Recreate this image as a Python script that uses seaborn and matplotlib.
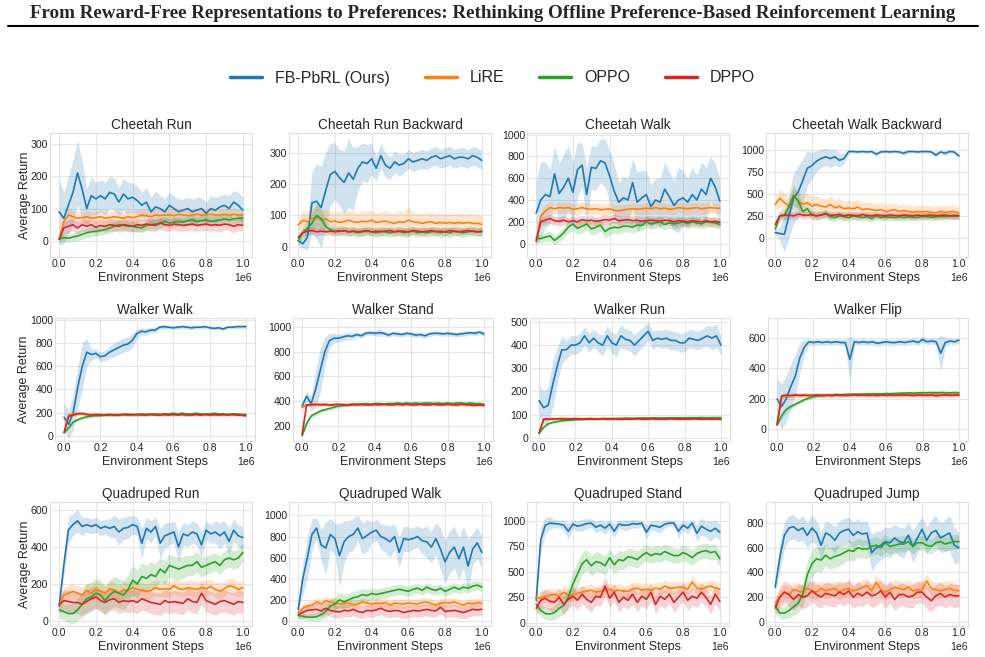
import numpy as np
import pandas as pd
import matplotlib
matplotlib.use("Agg")
import matplotlib.pyplot as plt
from matplotlib.lines import Line2D
import seaborn as sns

methods = ["FB-PbRL (Ours)", "LiRE", "OPPO", "DPPO"]
colors = ["#1f77b4", "#ff7f0e", "#2ca02c", "#d62728"]
steps = np.linspace(0, 1e6, 41)

tasks = ["Cheetah Run", "Cheetah Run Backward", "Cheetah Walk", "Cheetah Walk Backward",
         "Walker Walk", "Walker Stand", "Walker Run", "Walker Flip",
         "Quadruped Run", "Quadruped Walk", "Quadruped Stand", "Quadruped Jump"]
ylims = [(-50, 334), (-32, 362), (-123, 1015), (-217, 1190),
         (-43, 1014), (77, 1074), (-14, 517), (-76, 731),
         (-27, 642), (-48, 1127), (-33, 1188), (-35, 971)]
yticks = [[0, 100, 200, 300], [0, 100, 200, 300], [0, 200, 400, 600, 800, 1000], [0, 250, 500, 750, 1000],
          [0, 200, 400, 600, 800, 1000], [200, 400, 600, 800, 1000], [0, 100, 200, 300, 400, 500], [0, 200, 400, 600],
          [0, 200, 400, 600], [0, 200, 400, 600, 800, 1000], [0, 250, 500, 750, 1000], [0, 200, 400, 600, 800]]

# ---- Cheetah Run ----
cheetah_run = {
    "FB-PbRL (Ours)": [90, 70, 110, 150, 210, 160, 100, 140, 130, 140,
                       130, 150, 145, 120, 145, 130, 135, 125, 110, 120,
                       90, 105, 100, 90, 110, 100, 90, 95, 100, 90,
                       95, 100, 85, 100, 95, 105, 110, 100, 120, 110, 95],
    "LiRE": [5, 60, 80, 75, 70, 72, 75, 70, 72, 75,
             70, 72, 75, 72, 70, 75, 72, 75, 80, 78,
             75, 80, 78, 80, 80, 78, 82, 80, 78, 80,
             82, 80, 80, 82, 80, 80, 82, 80, 82, 80, 80],
    "OPPO": [5, 10, 8, 12, 15, 20, 25, 28, 30, 32,
             35, 40, 45, 50, 48, 45, 45, 42, 40, 48,
             50, 52, 55, 60, 55, 58, 60, 58, 62, 65,
             60, 62, 65, 60, 62, 65, 68, 65, 68, 70, 70],
    "DPPO": [5, 40, 45, 50, 40, 50, 45, 50, 42, 48,
             45, 50, 48, 45, 50, 48, 45, 50, 48, 52,
             50, 48, 55, 50, 48, 52, 50, 48, 50, 52,
             48, 50, 52, 48, 50, 48, 52, 50, 45, 50, 48],
}
cheetah_run_sd = {
    "FB-PbRL (Ours)": [100, 80, 90, 100, 100, 90, 60, 60, 50, 50,
                       50, 50, 50, 45, 50, 50, 45, 45, 40, 45,
                       45, 50, 40, 40, 40, 40, 40, 35, 35, 40,
                       40, 35, 35, 40, 40, 35, 35, 40, 35, 40, 40],
    "LiRE": [10, 20, 22, 20, 18, 18, 20, 18, 18, 20,
             18, 18, 20, 18, 18, 20, 18, 20, 18, 18,
             20, 18, 18, 20, 18, 18, 20, 18, 18, 20,
             18, 18, 20, 18, 18, 20, 18, 18, 20, 18, 18],
    "OPPO": [10, 12, 12, 14, 15, 15, 15, 16, 15, 15,
             16, 15, 15, 16, 15, 15, 16, 15, 15, 16,
             15, 15, 16, 15, 15, 16, 15, 15, 16, 15,
             15, 16, 15, 15, 16, 15, 15, 16, 15, 15, 16],
    "DPPO": [10, 18, 20, 18, 18, 20, 18, 18, 20, 18,
             18, 20, 18, 18, 20, 18, 18, 20, 18, 18,
             20, 18, 18, 20, 18, 18, 20, 18, 18, 20,
             18, 18, 20, 18, 18, 20, 18, 18, 20, 18, 18],
}

# ---- Cheetah Run Backward ----
cheetah_run_backward = {
    "FB-PbRL (Ours)": [20, 10, 30, 140, 145, 125, 180, 230, 240, 220,
                       205, 235, 215, 250, 270, 265, 280, 250, 290, 260,
                       250, 270, 260, 265, 280, 270, 275, 280, 275, 285,
                       290, 280, 285, 290, 280, 285, 285, 280, 290, 285, 275],
    "LiRE": [70, 85, 80, 90, 95, 85, 90, 80, 82, 78,
             80, 85, 80, 78, 82, 80, 85, 78, 80, 82,
             78, 75, 80, 78, 85, 80, 78, 75, 78, 80,
             75, 78, 75, 78, 75, 78, 75, 78, 75, 75, 72],
    "OPPO": [20, 45, 60, 75, 100, 90, 65, 55, 50, 52,
             50, 48, 50, 45, 48, 50, 48, 45, 50, 48,
             45, 48, 50, 45, 48, 50, 45, 48, 45, 48,
             50, 45, 48, 45, 50, 48, 45, 48, 50, 48, 48],
    "DPPO": [30, 45, 50, 52, 48, 50, 48, 50, 48, 50,
             52, 48, 50, 48, 50, 52, 48, 50, 48, 50,
             52, 48, 50, 50, 48, 52, 50, 48, 50, 52,
             48, 50, 48, 52, 50, 48, 50, 52, 50, 48, 50],
}
cheetah_run_backward_sd = {
    "FB-PbRL (Ours)": [15, 15, 40, 100, 120, 130, 120, 100, 90, 90,
                       100, 110, 100, 70, 60, 60, 50, 40, 40, 40,
                       35, 35, 35, 30, 30, 30, 30, 30, 30, 30,
                       30, 30, 30, 30, 30, 30, 30, 30, 30, 30, 30],
    "LiRE": [20, 30, 30, 35, 40, 35, 30, 30, 30, 35,
             30, 30, 35, 30, 30, 35, 30, 30, 30, 35,
             30, 30, 35, 30, 45, 30, 30, 30, 30, 30,
             28, 28, 30, 28, 28, 30, 28, 28, 30, 28, 28],
    "OPPO": [15, 20, 25, 30, 35, 30, 20, 15, 15, 15,
             15, 15, 15, 15, 15, 15, 15, 15, 15, 15,
             15, 15, 15, 15, 15, 15, 15, 15, 15, 15,
             15, 15, 15, 15, 15, 15, 15, 15, 15, 15, 15],
    "DPPO": [15, 12, 12, 12, 12, 12, 12, 12, 12, 12,
             12, 12, 12, 12, 12, 12, 12, 12, 12, 12,
             12, 12, 12, 12, 12, 12, 12, 12, 12, 12,
             12, 12, 12, 12, 12, 12, 12, 12, 12, 12, 12],
}

# ---- Cheetah Walk ----
cheetah_walk = {
    "FB-PbRL (Ours)": [280, 400, 450, 430, 640, 460, 520, 600, 470, 680,
                       720, 450, 700, 690, 760, 740, 620, 480, 380, 420,
                       400, 560, 380, 420, 450, 340, 400, 380, 500, 430,
                       350, 400, 420, 380, 450, 400, 500, 450, 600, 520, 390],
    "LiRE": [30, 250, 300, 330, 320, 330, 325, 330, 315, 320,
             330, 320, 315, 320, 310, 315, 320, 305, 300, 310,
             315, 320, 315, 320, 325, 320, 330, 320, 325, 315,
             320, 330, 325, 320, 325, 330, 320, 325, 330, 325, 325],
    "OPPO": [50, 45, 60, 70, 30, 60, 100, 150, 180, 140,
             160, 180, 135, 150, 170, 110, 140, 150, 145, 160,
             160, 150, 170, 165, 200, 180, 190, 200, 175, 190,
             180, 190, 200, 185, 200, 190, 180, 200, 195, 190, 175],
    "DPPO": [20, 200, 215, 230, 210, 205, 215, 200, 210, 200,
             220, 210, 215, 205, 210, 220, 215, 230, 210, 215,
             220, 210, 215, 205, 210, 215, 210, 205, 215, 210,
             200, 210, 205, 200, 210, 205, 200, 210, 200, 205, 195],
}
cheetah_walk_sd = {
    "FB-PbRL (Ours)": [300, 350, 300, 250, 250, 280, 300, 300, 280, 250,
                       200, 250, 200, 200, 200, 220, 230, 250, 180, 200,
                       200, 220, 280, 250, 220, 200, 200, 220, 250, 230,
                       230, 300, 250, 220, 250, 230, 250, 250, 200, 220, 200],
    "LiRE": [20, 50, 60, 55, 50, 50, 55, 50, 50, 55,
             50, 50, 55, 50, 50, 55, 50, 50, 55, 50,
             50, 55, 50, 50, 55, 50, 50, 55, 50, 50,
             55, 50, 50, 55, 50, 50, 55, 50, 50, 55, 50],
    "OPPO": [30, 40, 40, 45, 40, 45, 50, 55, 60, 55,
             60, 55, 55, 60, 55, 60, 55, 55, 60, 55,
             50, 55, 50, 50, 55, 50, 50, 55, 50, 50,
             45, 50, 45, 45, 50, 45, 45, 50, 45, 45, 45],
    "DPPO": [20, 40, 40, 45, 40, 40, 45, 40, 40, 45,
             40, 40, 45, 40, 40, 45, 40, 40, 45, 40,
             40, 45, 40, 40, 45, 40, 40, 45, 40, 40,
             45, 40, 40, 45, 40, 40, 45, 40, 40, 45, 40],
}

# ---- Cheetah Walk Backward ----
cheetah_walk_backward = {
    "FB-PbRL (Ours)": [60, 50, 40, 250, 450, 520, 650, 790, 820, 870,
                       900, 920, 900, 920, 880, 900, 980, 980, 975, 980,
                       975, 980, 950, 975, 980, 975, 980, 975, 960, 980,
                       980, 975, 980, 980, 975, 940, 975, 960, 980, 975, 930],
    "LiRE": [380, 450, 400, 360, 480, 420, 380, 400, 360, 380,
             360, 350, 380, 340, 360, 330, 340, 330, 350, 320,
             330, 320, 310, 320, 300, 310, 320, 300, 310, 300,
             290, 300, 295, 300, 290, 285, 300, 290, 295, 300, 280],
    "OPPO": [100, 250, 260, 350, 480, 420, 300, 330, 260, 250,
             260, 280, 240, 230, 250, 240, 230, 250, 240, 230,
             240, 220, 250, 230, 240, 235, 230, 240, 230, 240,
             235, 230, 245, 240, 235, 240, 245, 240, 250, 245, 250],
    "DPPO": [150, 250, 255, 260, 250, 270, 260, 255, 265, 250,
             260, 270, 255, 260, 265, 250, 260, 255, 250, 265,
             255, 250, 260, 255, 250, 260, 255, 250, 260, 255,
             250, 260, 250, 255, 260, 250, 255, 260, 250, 255, 250],
}
cheetah_walk_backward_sd = {
    "FB-PbRL (Ours)": [20, 80, 200, 250, 280, 300, 250, 200, 150, 120,
                       100, 100, 100, 90, 80, 60, 20, 15, 15, 15,
                       15, 15, 30, 15, 15, 15, 15, 15, 30, 15,
                       15, 15, 15, 15, 15, 30, 15, 30, 15, 15, 30],
    "LiRE": [60, 100, 120, 110, 120, 110, 100, 110, 100, 100,
             90, 90, 100, 90, 90, 85, 90, 85, 90, 80,
             80, 80, 75, 80, 75, 75, 80, 70, 75, 70,
             70, 70, 70, 70, 70, 65, 70, 65, 70, 65, 60],
    "OPPO": [40, 60, 70, 90, 100, 90, 70, 60, 50, 50,
             50, 50, 45, 45, 45, 45, 45, 45, 45, 45,
             40, 40, 40, 40, 40, 40, 40, 40, 40, 40,
             40, 40, 40, 40, 40, 40, 40, 40, 40, 40, 40],
    "DPPO": [60, 40, 40, 45, 40, 40, 45, 40, 40, 45,
             40, 40, 45, 40, 40, 45, 40, 40, 45, 40,
             40, 45, 40, 40, 45, 40, 40, 45, 40, 40,
             45, 40, 40, 45, 40, 40, 45, 40, 40, 45, 40],
}

# ---- Walker Walk ----
walker_walk = {
    "FB-PbRL (Ours)": [160, 100, 200, 420, 600, 720, 700, 710, 680, 690,
                       720, 740, 760, 780, 790, 820, 880, 900, 895, 910,
                       910, 935, 940, 935, 930, 935, 940, 935, 930, 935,
                       935, 940, 930, 925, 930, 920, 935, 935, 940, 940, 940],
    "LiRE": [30, 180, 190, 195, 190, 185, 185, 190, 180, 185,
             185, 180, 185, 185, 190, 185, 180, 185, 185, 190,
             185, 185, 180, 185, 185, 190, 185, 180, 185, 185,
             180, 185, 185, 180, 185, 180, 185, 185, 180, 180, 175],
    "OPPO": [30, 70, 120, 140, 155, 165, 170, 175, 175, 180,
             180, 185, 180, 185, 185, 180, 185, 190, 185, 185,
             190, 185, 190, 190, 195, 190, 195, 190, 190, 195,
             190, 190, 190, 195, 190, 190, 185, 190, 190, 185, 185],
    "DPPO": [30, 170, 180, 190, 195, 185, 180, 180, 185, 180,
             185, 180, 180, 185, 180, 185, 185, 180, 180, 185,
             180, 180, 185, 180, 185, 180, 185, 180, 180, 185,
             180, 185, 180, 185, 180, 185, 180, 185, 180, 180, 175],
}
walker_walk_sd = {
    "FB-PbRL (Ours)": [120, 120, 150, 180, 200, 120, 50, 40, 40, 45,
                       50, 60, 60, 60, 60, 60, 40, 30, 30, 25,
                       20, 20, 20, 15, 15, 15, 15, 15, 15, 15,
                       15, 15, 15, 15, 15, 15, 15, 15, 15, 15, 15],
    "LiRE": [10, 12, 12, 10, 10, 10, 10, 10, 10, 10,
             10, 10, 10, 10, 10, 10, 10, 10, 10, 10,
             10, 10, 10, 10, 10, 10, 10, 10, 10, 10,
             10, 10, 10, 10, 10, 10, 10, 10, 10, 10, 10],
    "OPPO": [10, 15, 15, 15, 15, 12, 12, 12, 12, 12,
             12, 12, 12, 12, 12, 12, 12, 12, 12, 12,
             12, 12, 12, 12, 12, 12, 12, 12, 12, 12,
             12, 12, 12, 12, 12, 12, 12, 12, 12, 12, 12],
    "DPPO": [10, 12, 12, 12, 12, 12, 12, 12, 12, 12,
             12, 12, 12, 12, 12, 12, 12, 12, 12, 12,
             12, 12, 12, 12, 12, 12, 12, 12, 12, 12,
             12, 12, 12, 12, 12, 12, 12, 12, 12, 12, 12],
}

# ---- Walker Stand ----
walker_stand = {
    "FB-PbRL (Ours)": [360, 440, 380, 500, 650, 800, 890, 910, 910, 920,
                       930, 925, 940, 930, 950, 955, 950, 955, 950, 935,
                       950, 945, 940, 950, 945, 935, 940, 930, 945, 950,
                       950, 945, 950, 945, 940, 945, 950, 955, 950, 960, 945],
    "LiRE": [350, 370, 375, 370, 375, 370, 370, 375, 370, 375,
             370, 375, 375, 370, 375, 375, 370, 380, 375, 380,
             375, 380, 375, 375, 380, 375, 380, 375, 375, 380,
             375, 375, 380, 375, 370, 375, 375, 370, 375, 370, 370],
    "OPPO": [120, 220, 280, 300, 320, 330, 340, 350, 360, 365,
             370, 370, 375, 375, 380, 375, 380, 380, 375, 380,
             380, 385, 380, 385, 380, 385, 380, 385, 385, 380,
             385, 380, 385, 380, 385, 385, 380, 385, 380, 380, 375],
    "DPPO": [130, 370, 370, 375, 370, 375, 370, 370, 375, 370,
             370, 375, 370, 375, 370, 370, 375, 370, 375, 370,
             370, 375, 370, 375, 370, 370, 375, 370, 370, 375,
             370, 370, 375, 370, 370, 375, 370, 370, 365, 370, 365],
}
walker_stand_sd = {
    "FB-PbRL (Ours)": [20, 40, 60, 150, 180, 120, 60, 40, 30, 30,
                       30, 30, 20, 20, 20, 20, 20, 30, 20, 20,
                       20, 20, 20, 20, 20, 20, 20, 20, 20, 20,
                       20, 20, 20, 20, 20, 20, 20, 20, 20, 20, 20],
    "LiRE": [15, 12, 12, 12, 12, 12, 12, 12, 12, 12,
             12, 12, 12, 12, 12, 12, 12, 12, 12, 12,
             12, 12, 12, 12, 12, 12, 12, 12, 12, 12,
             12, 12, 12, 12, 12, 12, 12, 12, 12, 12, 12],
    "OPPO": [15, 20, 20, 18, 16, 15, 15, 15, 14, 14,
             14, 14, 14, 14, 14, 14, 14, 14, 14, 14,
             14, 14, 14, 14, 14, 14, 14, 14, 14, 14,
             14, 14, 14, 14, 14, 14, 14, 14, 14, 14, 14],
    "DPPO": [15, 12, 12, 12, 12, 12, 12, 12, 12, 12,
             12, 12, 12, 12, 12, 12, 12, 12, 12, 12,
             12, 12, 12, 12, 12, 12, 12, 12, 12, 12,
             12, 12, 12, 12, 12, 12, 12, 12, 12, 12, 12],
}

# ---- Walker Run ----
walker_run = {
    "FB-PbRL (Ours)": [160, 130, 140, 230, 310, 380, 380, 400, 400, 410,
                       440, 410, 430, 410, 400, 440, 410, 400, 440, 425,
                       420, 400, 420, 440, 460, 420, 430, 425, 430, 420,
                       420, 410, 410, 430, 425, 420, 430, 440, 430, 440, 400],
    "LiRE": [20, 80, 82, 83, 82, 84, 83, 82, 84, 83,
             82, 84, 83, 82, 84, 83, 84, 82, 83, 84,
             83, 82, 84, 83, 82, 84, 83, 82, 83, 84,
             82, 83, 82, 84, 83, 82, 83, 82, 83, 82, 80],
    "OPPO": [20, 45, 60, 66, 70, 73, 75, 77, 78, 79,
             80, 80, 81, 81, 82, 82, 82, 83, 83, 84,
             84, 84, 85, 85, 85, 85, 86, 85, 86, 86,
             86, 86, 86, 87, 86, 87, 87, 86, 87, 87, 87],
    "DPPO": [20, 80, 81, 80, 82, 81, 80, 82, 81, 80,
             81, 82, 80, 81, 82, 80, 81, 82, 80, 81,
             80, 82, 81, 80, 81, 82, 80, 81, 80, 82,
             81, 80, 81, 80, 82, 81, 80, 81, 80, 81, 80],
}
walker_run_sd = {
    "FB-PbRL (Ours)": [70, 70, 80, 100, 80, 60, 40, 40, 40, 40,
                       40, 40, 40, 40, 45, 45, 45, 50, 50, 45,
                       45, 45, 45, 40, 40, 40, 35, 40, 40, 40,
                       40, 40, 40, 40, 40, 40, 40, 45, 50, 50, 40],
    "LiRE": [5, 5, 5, 5, 5, 5, 5, 5, 5, 5,
             5, 5, 5, 5, 5, 5, 5, 5, 5, 5,
             5, 5, 5, 5, 5, 5, 5, 5, 5, 5,
             5, 5, 5, 5, 5, 5, 5, 5, 5, 5, 5],
    "OPPO": [5, 6, 6, 5, 5, 5, 5, 5, 5, 5,
             5, 5, 5, 5, 5, 5, 5, 5, 5, 5,
             5, 5, 5, 5, 5, 5, 5, 5, 5, 5,
             5, 5, 5, 5, 5, 5, 5, 5, 5, 5, 5],
    "DPPO": [5, 6, 6, 6, 6, 6, 6, 6, 6, 6,
             6, 6, 6, 6, 6, 6, 6, 6, 6, 6,
             6, 6, 6, 6, 6, 6, 6, 6, 6, 6,
             6, 6, 6, 6, 6, 6, 6, 6, 6, 6, 6],
}

# ---- Walker Flip ----
walker_flip = {
    "FB-PbRL (Ours)": [200, 150, 200, 280, 350, 470, 540, 575, 570, 575,
                       570, 575, 570, 575, 570, 570, 460, 575, 570, 575,
                       570, 575, 565, 570, 575, 570, 570, 575, 570, 575,
                       580, 570, 590, 575, 580, 575, 500, 570, 580, 575, 585],
    "LiRE": [40, 215, 220, 222, 225, 222, 224, 225, 222, 225,
             224, 226, 225, 227, 226, 228, 227, 228, 226, 228,
             227, 229, 228, 230, 228, 229, 230, 228, 230, 229,
             230, 228, 230, 229, 231, 230, 229, 230, 231, 230, 230],
    "OPPO": [30, 90, 130, 150, 165, 180, 195, 205, 215, 220,
             222, 225, 226, 228, 227, 229, 230, 230, 232, 231,
             233, 232, 234, 233, 235, 234, 236, 237, 238, 240,
             238, 240, 241, 240, 242, 240, 242, 241, 240, 242, 240],
    "DPPO": [30, 220, 225, 222, 226, 223, 225, 222, 224, 226,
             223, 225, 222, 226, 224, 223, 225, 227, 224, 226,
             223, 225, 222, 226, 224, 225, 223, 226, 224, 225,
             222, 226, 224, 223, 225, 220, 224, 226, 223, 225, 225],
}
walker_flip_sd = {
    "FB-PbRL (Ours)": [130, 150, 150, 150, 140, 100, 50, 20, 20, 20,
                       20, 20, 20, 20, 20, 20, 150, 20, 20, 20,
                       20, 20, 20, 20, 20, 20, 20, 20, 20, 20,
                       20, 20, 20, 20, 20, 20, 120, 30, 20, 20, 20],
    "LiRE": [10, 10, 10, 10, 10, 10, 10, 10, 10, 10,
             10, 10, 10, 10, 10, 10, 10, 10, 10, 10,
             10, 10, 10, 10, 10, 10, 10, 10, 10, 10,
             10, 10, 10, 10, 10, 10, 10, 10, 10, 10, 10],
    "OPPO": [15, 20, 20, 15, 15, 12, 12, 12, 12, 12,
             12, 12, 12, 12, 12, 12, 12, 12, 12, 12,
             12, 12, 12, 12, 12, 12, 12, 12, 12, 12,
             12, 12, 12, 12, 12, 12, 12, 12, 12, 12, 12],
    "DPPO": [15, 15, 15, 15, 15, 15, 15, 15, 15, 15,
             15, 15, 15, 15, 15, 15, 15, 15, 15, 15,
             15, 15, 15, 15, 15, 15, 15, 15, 15, 15,
             15, 15, 15, 15, 15, 15, 15, 15, 15, 15, 15],
}

# ---- Quadruped Run ----
quadruped_run = {
    "FB-PbRL (Ours)": [80, 300, 490, 520, 540, 510, 520, 510, 520, 500,
                       510, 500, 510, 480, 500, 505, 520, 510, 420, 500,
                       480, 510, 420, 460, 470, 480, 400, 470, 460, 480,
                       470, 410, 490, 470, 480, 460, 480, 430, 490, 460, 450],
    "LiRE": [90, 140, 150, 160, 150, 140, 165, 150, 170, 160,
             150, 175, 165, 150, 170, 165, 180, 170, 165, 160,
             165, 180, 170, 175, 170, 190, 175, 170, 180, 175,
             170, 180, 175, 185, 170, 160, 175, 190, 185, 170, 180],
    "OPPO": [60, 50, 40, 40, 60, 90, 120, 130, 150, 140,
             110, 140, 160, 150, 140, 170, 220, 200, 240, 230,
             250, 240, 280, 260, 300, 290, 280, 290, 300, 300,
             320, 290, 300, 310, 320, 300, 330, 340, 330, 340, 370],
    "DPPO": [90, 110, 105, 100, 100, 90, 105, 120, 130, 110,
             100, 115, 120, 100, 110, 105, 110, 100, 120, 110,
             100, 95, 90, 110, 100, 105, 100, 95, 120, 105,
             100, 150, 110, 100, 90, 105, 110, 100, 90, 105, 100],
}
quadruped_run_sd = {
    "FB-PbRL (Ours)": [30, 60, 70, 60, 60, 50, 40, 40, 40, 40,
                       40, 50, 60, 70, 60, 60, 50, 50, 80, 60,
                       60, 50, 80, 70, 60, 60, 80, 60, 60, 60,
                       60, 70, 50, 50, 60, 70, 60, 70, 60, 60, 60],
    "LiRE": [30, 40, 45, 40, 40, 45, 40, 40, 45, 40,
             40, 45, 40, 40, 45, 40, 40, 45, 40, 40,
             45, 40, 40, 45, 40, 40, 45, 40, 40, 45,
             40, 40, 45, 40, 40, 45, 40, 40, 45, 40, 40],
    "OPPO": [40, 45, 50, 55, 60, 70, 80, 80, 80, 80,
             80, 80, 80, 80, 80, 80, 80, 75, 75, 70,
             70, 70, 65, 65, 60, 60, 60, 60, 55, 55,
             55, 55, 50, 50, 50, 50, 50, 50, 50, 50, 50],
    "DPPO": [40, 60, 60, 60, 60, 60, 60, 60, 60, 60,
             60, 60, 60, 60, 60, 60, 60, 60, 60, 60,
             60, 60, 60, 60, 60, 60, 60, 60, 60, 60,
             60, 60, 60, 60, 60, 60, 60, 60, 60, 60, 60],
}

# ---- Quadruped Walk ----
quadruped_walk = {
    "FB-PbRL (Ours)": [110, 400, 600, 820, 880, 720, 690, 820, 780, 620,
                       750, 800, 820, 880, 780, 810, 840, 860, 800, 780,
                       750, 800, 650, 780, 770, 780, 800, 760, 750, 700,
                       780, 680, 560, 650, 700, 590, 700, 520, 680, 740, 650],
    "LiRE": [80, 120, 140, 150, 180, 160, 190, 180, 170, 160,
             165, 170, 150, 160, 180, 170, 160, 170, 165, 175,
             150, 170, 165, 160, 170, 165, 160, 175, 180, 165,
             150, 170, 175, 170, 180, 165, 150, 170, 165, 175, 170],
    "OPPO": [50, 45, 35, 35, 40, 60, 90, 140, 160, 200,
             180, 200, 220, 230, 250, 240, 260, 250, 260, 270,
             280, 290, 300, 290, 280, 300, 310, 290, 320, 300,
             290, 310, 280, 300, 320, 300, 320, 310, 330, 340, 320],
    "DPPO": [60, 80, 100, 105, 110, 95, 120, 100, 90, 85,
             100, 95, 110, 90, 80, 100, 95, 105, 120, 100,
             90, 100, 95, 80, 90, 100, 95, 100, 110, 100,
             95, 130, 90, 95, 100, 90, 80, 95, 110, 105, 110],
}
quadruped_walk_sd = {
    "FB-PbRL (Ours)": [30, 150, 200, 150, 100, 150, 250, 150, 150, 300,
                       200, 150, 150, 120, 150, 150, 100, 100, 120, 130,
                       150, 120, 150, 120, 120, 100, 100, 120, 150, 150,
                       150, 200, 200, 200, 200, 200, 200, 250, 150, 150, 150],
    "LiRE": [30, 40, 45, 40, 40, 45, 40, 40, 45, 40,
             40, 45, 40, 40, 45, 40, 40, 45, 40, 40,
             45, 40, 40, 45, 40, 40, 45, 40, 40, 45,
             40, 40, 45, 40, 40, 45, 40, 40, 45, 40, 40],
    "OPPO": [30, 30, 30, 35, 40, 50, 60, 70, 70, 70,
             70, 65, 60, 60, 60, 55, 55, 55, 50, 50,
             50, 50, 50, 50, 50, 50, 45, 45, 45, 45,
             45, 45, 45, 45, 45, 45, 45, 45, 45, 45, 45],
    "DPPO": [40, 60, 60, 60, 60, 60, 60, 60, 60, 60,
             60, 60, 60, 60, 60, 60, 60, 60, 60, 60,
             60, 60, 60, 60, 60, 60, 60, 60, 60, 60,
             60, 60, 60, 60, 60, 60, 60, 60, 60, 60, 60],
}

# ---- Quadruped Stand ----
quadruped_stand = {
    "FB-PbRL (Ours)": [220, 820, 960, 980, 975, 970, 960, 900, 970, 950,
                       960, 975, 980, 940, 960, 930, 970, 900, 970, 960,
                       960, 975, 970, 980, 890, 960, 950, 940, 970, 980,
                       980, 900, 960, 930, 980, 880, 950, 920, 900, 930, 890],
    "LiRE": [250, 240, 260, 270, 280, 260, 300, 270, 270, 290,
             300, 310, 320, 300, 310, 320, 330, 310, 320, 310,
             310, 330, 340, 320, 330, 320, 340, 330, 360, 340,
             340, 350, 350, 330, 400, 340, 330, 350, 360, 340, 330],
    "OPPO": [180, 120, 90, 85, 100, 140, 170, 250, 380, 480,
             580, 620, 560, 600, 590, 560, 640, 570, 620, 610,
             650, 640, 620, 660, 690, 660, 680, 670, 700, 680,
             660, 660, 690, 670, 640, 680, 700, 710, 690, 700, 630],
    "DPPO": [140, 220, 240, 210, 200, 250, 180, 230, 260, 220,
             280, 230, 200, 260, 250, 360, 240, 300, 200, 250,
             220, 280, 200, 260, 230, 300, 180, 260, 230, 280,
             200, 250, 300, 220, 260, 240, 300, 250, 180, 280, 210],
}
quadruped_stand_sd = {
    "FB-PbRL (Ours)": [30, 120, 80, 60, 40, 40, 50, 80, 40, 50,
                       60, 50, 40, 60, 50, 60, 40, 70, 40, 50,
                       50, 40, 40, 30, 70, 40, 50, 60, 40, 30,
                       30, 70, 50, 60, 40, 80, 80, 80, 100, 80, 80],
    "LiRE": [50, 60, 60, 65, 60, 60, 65, 60, 60, 65,
             60, 60, 65, 60, 60, 65, 60, 60, 65, 60,
             60, 65, 60, 60, 65, 60, 60, 65, 60, 60,
             65, 60, 60, 65, 60, 60, 65, 60, 60, 65, 60],
    "OPPO": [60, 60, 60, 60, 70, 80, 90, 110, 120, 120,
             110, 100, 100, 100, 95, 95, 90, 90, 90, 90,
             85, 85, 85, 80, 80, 80, 80, 80, 75, 75,
             75, 75, 75, 75, 75, 75, 75, 75, 75, 75, 75],
    "DPPO": [60, 90, 90, 95, 90, 90, 95, 90, 90, 95,
             90, 90, 95, 90, 90, 95, 90, 90, 95, 90,
             90, 95, 90, 90, 95, 90, 90, 95, 90, 90,
             95, 90, 90, 95, 90, 90, 95, 90, 90, 95, 90],
}

# ---- Quadruped Jump ----
quadruped_jump = {
    "FB-PbRL (Ours)": [280, 520, 700, 760, 770, 740, 760, 700, 760, 720,
                       620, 720, 700, 660, 720, 740, 750, 700, 730, 710,
                       720, 560, 600, 620, 650, 640, 680, 650, 640, 700,
                       610, 680, 750, 660, 720, 740, 680, 700, 720, 620, 600],
    "LiRE": [150, 200, 240, 220, 260, 250, 240, 270, 250, 240,
             270, 250, 260, 270, 240, 260, 270, 250, 260, 280,
             290, 250, 320, 260, 240, 260, 280, 270, 260, 280,
             250, 260, 260, 330, 270, 260, 250, 260, 270, 255, 250],
    "OPPO": [130, 70, 70, 90, 120, 150, 220, 380, 470, 510,
             500, 540, 510, 530, 540, 560, 580, 570, 600, 590,
             590, 610, 620, 600, 640, 610, 620, 630, 630, 650,
             610, 640, 640, 620, 610, 640, 650, 630, 640, 650, 650],
    "DPPO": [110, 200, 240, 220, 180, 220, 200, 210, 250, 220,
             200, 230, 220, 210, 240, 220, 250, 200, 230, 210,
             240, 210, 220, 250, 200, 240, 180, 220, 220, 200,
             210, 240, 240, 200, 170, 210, 230, 200, 220, 210, 210],
}
quadruped_jump_sd = {
    "FB-PbRL (Ours)": [40, 120, 110, 100, 100, 90, 100, 100, 110, 100,
                       110, 100, 100, 110, 100, 100, 100, 110, 100, 100,
                       100, 150, 130, 120, 120, 120, 110, 120, 120, 110,
                       130, 120, 100, 110, 110, 120, 120, 130, 140, 150, 120],
    "LiRE": [50, 60, 65, 60, 60, 65, 60, 60, 65, 60,
             60, 65, 60, 60, 65, 60, 60, 65, 60, 60,
             65, 60, 60, 65, 60, 60, 65, 60, 60, 65,
             60, 60, 65, 60, 60, 65, 60, 60, 65, 60, 60],
    "OPPO": [50, 50, 50, 60, 70, 80, 100, 110, 110, 100,
             100, 90, 90, 85, 85, 80, 80, 80, 75, 75,
             75, 70, 70, 70, 70, 65, 65, 65, 65, 65,
             60, 60, 60, 60, 60, 60, 60, 60, 60, 60, 60],
    "DPPO": [60, 90, 90, 95, 90, 90, 95, 90, 90, 95,
             90, 90, 95, 90, 90, 95, 90, 90, 95, 90,
             90, 95, 90, 90, 95, 90, 90, 95, 90, 90,
             95, 90, 90, 95, 90, 90, 95, 90, 90, 95, 90],
}

means = [cheetah_run, cheetah_run_backward, cheetah_walk, cheetah_walk_backward,
         walker_walk, walker_stand, walker_run, walker_flip,
         quadruped_run, quadruped_walk, quadruped_stand, quadruped_jump]
spreads = [cheetah_run_sd, cheetah_run_backward_sd, cheetah_walk_sd, cheetah_walk_backward_sd,
           walker_walk_sd, walker_stand_sd, walker_run_sd, walker_flip_sd,
           quadruped_run_sd, quadruped_walk_sd, quadruped_stand_sd, quadruped_jump_sd]

sns.set_theme(style="whitegrid", rc={"axes.edgecolor": "#dedede", "axes.linewidth": 0.8,
                                     "grid.color": "#e6e6e6", "grid.linewidth": 0.8})
plt.rcParams["font.family"] = ["Liberation Sans", "DejaVu Sans"]

W, H = 985, 657
fig = plt.figure(figsize=(W / 100, H / 100), dpi=100)

# axes boxes in pixels: (column lefts, width, top, bottom) for each row
row_boxes = [([50, 289, 527, 766], 202, 133, 257),
             ([55, 293, 530, 768], 200, 318, 441),
             ([50, 289, 527, 766], 202, 502, 626)]

axes = []
for lefts, w, top, bottom in row_boxes:
    for l in lefts:
        axes.append(fig.add_axes([l / W, 1 - bottom / H, w / W, (bottom - top) / H]))

for i, ax in enumerate(axes):
    rows = []
    for m in methods:
        for s, v in zip(steps, means[i][m]):
            rows.append({"step": s, "ret": v, "method": m})
    df = pd.DataFrame(rows)

    # shaded spread first, then the mean lines on top
    for m, c in zip(methods, colors):
        mu = np.array(means[i][m], dtype=float)
        sd = np.array(spreads[i][m], dtype=float)
        ax.fill_between(steps, mu - sd, mu + sd, color=c, alpha=0.2, linewidth=0)

    sns.lineplot(data=df, x="step", y="ret", hue="method", hue_order=methods,
                 palette=colors, legend=False, ax=ax, linewidth=1.2)

    ax.set_title(tasks[i], fontsize=9.8, pad=3, color="#262626")
    ax.set_xlabel("Environment Steps", fontsize=9, labelpad=2)
    ax.set_ylabel("Average Return" if i % 4 == 0 else "", fontsize=9, labelpad=0)
    ax.set_xlim(-0.05e6, 1.05e6)
    ax.set_ylim(*ylims[i])
    ax.set_yticks(yticks[i])
    ax.set_xticks([0, 0.2e6, 0.4e6, 0.6e6, 0.8e6, 1.0e6])
    ax.ticklabel_format(axis="x", style="sci", scilimits=(0, 0))
    ax.tick_params(labelsize=7.6, pad=1.5, length=0)
    ax.xaxis.get_offset_text().set_fontsize(7.6)

handles = [Line2D([0], [0], color=c, lw=2.5) for c in colors]
fig.legend(handles, methods, loc="center", bbox_to_anchor=(0.5, 1 - 78 / H), ncol=4,
           frameon=False, fontsize=11.5, handlelength=2.0, columnspacing=2.2)

fig.text(0.5, 1 - 14 / H,
         "From Reward-Free Representations to Preferences: Rethinking Offline Preference-Based Reinforcement Learning",
         ha="center", va="center", fontsize=13.7, fontweight="bold", family="Liberation Serif")
fig.add_artist(Line2D([0.008, 0.993], [1 - 26 / H, 1 - 26 / H], transform=fig.transFigure,
                      color="black", linewidth=1.5))

fig.savefig("out.png", dpi=100)
